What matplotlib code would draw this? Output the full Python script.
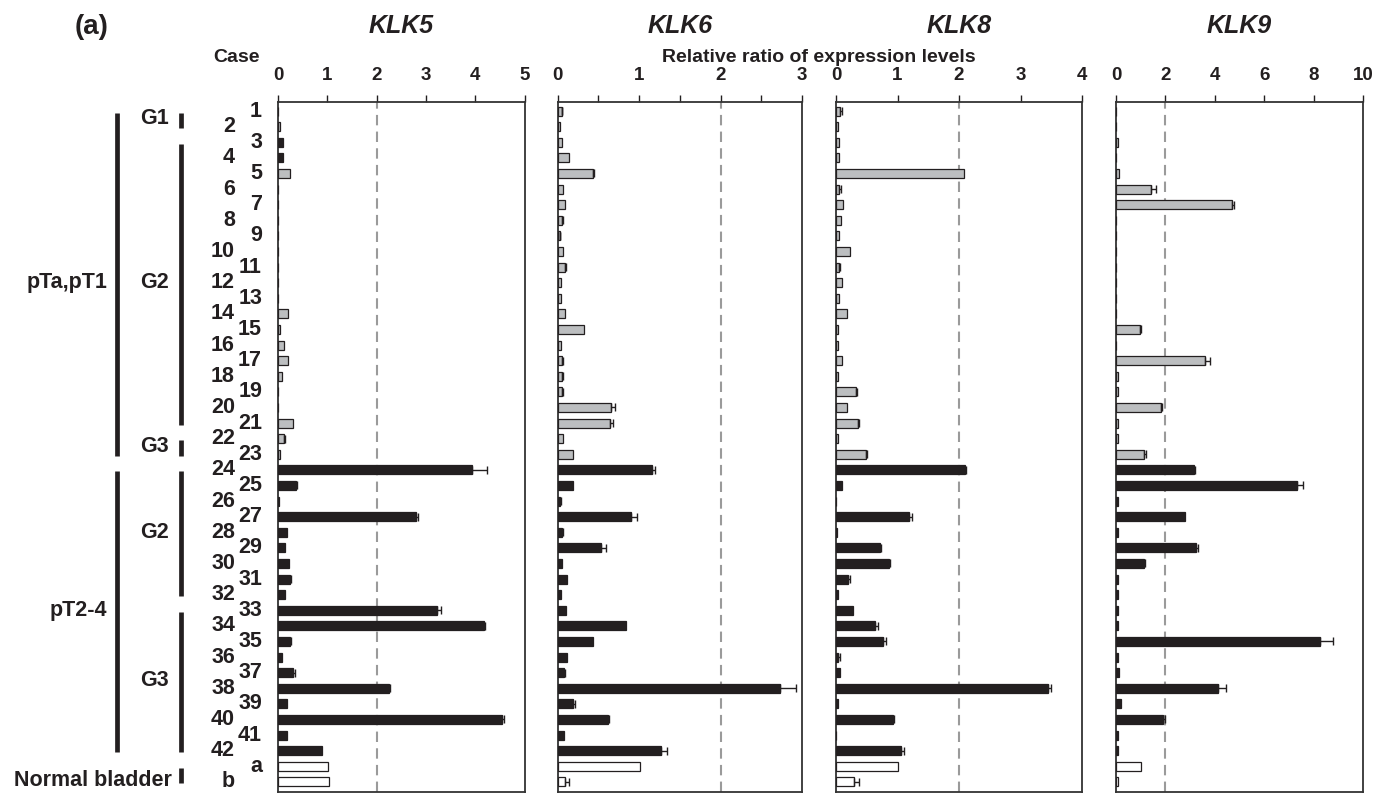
import matplotlib
matplotlib.use("Agg")
import matplotlib.pyplot as plt
from matplotlib import transforms
from matplotlib.lines import Line2D
import numpy as np

plt.rcParams['font.family'] = ['Liberation Sans', 'DejaVu Sans']
plt.rcParams['font.weight'] = 'bold'

# ---------------- data ----------------
cases = [str(i) for i in range(1, 43)] + ['a', 'b']
genes = ['KLK5', 'KLK6', 'KLK8', 'KLK9']

klk5 = [0.0, 0.05, 0.10, 0.10, 0.24, 0.0, 0.0, 0.0, 0.0, 0.0,
        0.0, 0.0, 0.0, 0.20, 0.04, 0.12, 0.20, 0.08, 0.0, 0.0,
        0.31, 0.12, 0.05, 3.93, 0.36, 0.02, 2.79, 0.19, 0.15, 0.22,
        0.24, 0.15, 3.23, 4.17, 0.24, 0.09, 0.30, 2.25, 0.18, 4.55,
        0.19, 0.89, 1.01, 1.03]
klk5_err = [0, 0, 0, 0, 0, 0, 0, 0, 0, 0,
            0, 0, 0, 0, 0, 0, 0, 0, 0, 0,
            0, 0.03, 0, 0.31, 0.02, 0, 0.05, 0, 0, 0,
            0.02, 0, 0.08, 0.03, 0.02, 0, 0.04, 0.02, 0, 0.03,
            0, 0, 0, 0]

klk6 = [0.05, 0.03, 0.05, 0.14, 0.43, 0.07, 0.09, 0.05, 0.025, 0.07,
        0.09, 0.045, 0.045, 0.09, 0.32, 0.045, 0.05, 0.05, 0.05, 0.66,
        0.64, 0.07, 0.19, 1.16, 0.19, 0.03, 0.90, 0.05, 0.53, 0.05,
        0.12, 0.04, 0.11, 0.84, 0.44, 0.12, 0.08, 2.73, 0.19, 0.62,
        0.08, 1.27, 1.01, 0.09]
klk6_err = [0.01, 0, 0, 0, 0.02, 0, 0, 0.02, 0.01, 0,
            0.02, 0, 0, 0, 0, 0, 0.02, 0.02, 0.02, 0.04,
            0.04, 0, 0, 0.04, 0, 0.01, 0.08, 0.02, 0.07, 0,
            0, 0, 0, 0, 0, 0, 0.01, 0.20, 0.02, 0.01,
            0, 0.07, 0, 0.05]

klk8 = [0.065, 0.03, 0.05, 0.05, 2.08, 0.05, 0.11, 0.08, 0.05, 0.22,
        0.05, 0.09, 0.05, 0.18, 0.03, 0.03, 0.09, 0.03, 0.32, 0.18,
        0.35, 0.03, 0.48, 2.09, 0.09, 0.0, 1.19, 0.02, 0.71, 0.86,
        0.19, 0.03, 0.28, 0.63, 0.76, 0.03, 0.06, 3.45, 0.04, 0.92,
        0.0, 1.06, 1.01, 0.29]
klk8_err = [0.03, 0, 0, 0, 0, 0.03, 0, 0, 0, 0,
            0.02, 0, 0, 0, 0, 0, 0, 0, 0.02, 0,
            0.03, 0, 0.03, 0.03, 0, 0, 0.04, 0, 0.02, 0.02,
            0.04, 0, 0, 0.05, 0.05, 0.03, 0, 0.04, 0, 0.02,
            0, 0.05, 0, 0.09]

klk9 = [0.0, 0.0, 0.07, 0.0, 0.12, 1.41, 4.71, 0.0, 0.0, 0.0,
        0.0, 0.0, 0.0, 0.0, 0.97, 0.0, 3.61, 0.07, 0.07, 1.81,
        0.07, 0.07, 1.12, 3.14, 7.33, 0.07, 2.79, 0.07, 3.25, 1.14,
        0.07, 0.07, 0.07, 0.07, 8.24, 0.07, 0.14, 4.14, 0.19, 1.92,
        0.07, 0.07, 1.03, 0.10]
klk9_err = [0, 0, 0, 0, 0, 0.19, 0.05, 0, 0, 0,
            0, 0, 0, 0, 0.05, 0, 0.19, 0, 0, 0.07,
            0, 0, 0.10, 0.05, 0.24, 0, 0, 0, 0.05, 0.05,
            0, 0, 0, 0, 0.55, 0, 0, 0.30, 0, 0.05,
            0, 0, 0, 0]

values = {'KLK5': klk5, 'KLK6': klk6, 'KLK8': klk8, 'KLK9': klk9}
errors = {'KLK5': klk5_err, 'KLK6': klk6_err, 'KLK8': klk8_err, 'KLK9': klk9_err}
xmax = {'KLK5': 5, 'KLK6': 3, 'KLK8': 4, 'KLK9': 10}
xstep = {'KLK5': 1, 'KLK6': 0.5, 'KLK8': 1, 'KLK9': 2}
dark_overrides = {'KLK5': ['3', '4']}

stage_groups = [('pTa,pT1', '1', '23'), ('pT2-4', '24', '42')]
grade_groups = [('G1', '1', '2'), ('G2', '3', '21'), ('G3', '22', '23'),
                ('G2', '24', '32'), ('G3', '33', '42'),
                ('Normal bladder', 'a', 'b')]

# ---------------- style ----------------
GRAY = '#bcbec0'
DARK = '#231f20'
W, H = 1391, 795
fig = plt.figure(figsize=(W / 100, H / 100), dpi=100)

lefts = [278, 557.5, 836, 1116]
rights = [524.5, 802, 1082, 1363]
top_px, bot_px = 102, 792

idx = np.arange(len(cases))
pos = {c: i for i, c in enumerate(cases)}

def case_color(gene, c):
    i = pos[c]
    if c in dark_overrides.get(gene, []):
        return DARK
    if i <= pos['23']:
        return GRAY
    if i <= pos['42']:
        return DARK
    return 'white'

axes = []
for g, l, r in zip(genes, lefts, rights):
    ax = fig.add_axes([l / W, 1 - bot_px / H, (r - l) / W, (bot_px - top_px) / H])
    axes.append(ax)
    vals = np.array(values[g])
    err = np.array(errors[g])
    cols = [case_color(g, c) for c in cases]
    ax.barh(idx, vals, height=0.58, color=cols, edgecolor=DARK, linewidth=0.9, zorder=3)
    m = err > 0
    ax.errorbar(vals[m], idx[m], xerr=[np.zeros(m.sum()), err[m]], fmt='none',
                ecolor=DARK, elinewidth=1.0, capsize=2.6, capthick=1.0, zorder=4)
    ax.axvline(2, color='#9a9a9a', lw=1.5, linestyle=(0, (5, 3)), zorder=2)
    ax.set_xlim(0, xmax[g])
    ax.set_ylim(43.65, -0.58)
    ticks = np.arange(0, xmax[g] + 1e-9, xstep[g])
    ax.set_xticks(ticks)
    ax.set_xticklabels([('%g' % t) if abs(t - round(t)) < 1e-9 else '' for t in ticks])
    ax.xaxis.tick_top()
    ax.tick_params(axis='x', direction='out', length=5, width=1.0, pad=8,
                   labelsize=13.5, colors=DARK)
    ax.set_yticks([])
    for sp in ax.spines.values():
        sp.set_color('#333333')
        sp.set_linewidth(1.3)
    fig.text((l + r) / 2 / W, 1 - 26 / H, g, ha='center', va='center',
             fontsize=18, fontstyle='italic', fontweight='bold', color=DARK)

ax1 = axes[0]
tr = transforms.blended_transform_factory(fig.transFigure, ax1.transData)

# case labels (staggered)
for i, c in enumerate(cases):
    xr = 262 if i % 2 == 0 else 235
    fig.text(xr / W, i, c, transform=tr, ha='right', va='center',
             fontsize=15.5, fontweight='bold', color=DARK)

# group lines and labels
def vline(xp, a, b, lw):
    fig.add_artist(Line2D([xp / W, xp / W], [pos[a] + 0.1, pos[b] + 0.1],
                          transform=tr, color=DARK, lw=lw, solid_capstyle='butt'))

for name, a, b in stage_groups:
    vline(117, a, b, 3.4)
    fig.text(107 / W, (pos[a] + pos[b]) / 2, name, transform=tr, ha='right',
             va='center', fontsize=15.5, fontweight='bold', color=DARK)
for name, a, b in grade_groups:
    vline(181, a, b, 3.4)
    yy = (pos[a] + pos[b]) / 2 if name != 'Normal bladder' else pos[b] - 0.1
    fig.text(169 / W if name != 'Normal bladder' else 172 / W, yy, name,
             transform=tr, ha='right', va='center', fontsize=15.5,
             fontweight='bold', color=DARK)

fig.text(92 / W, 1 - 27 / H, '(a)', ha='center', va='center', fontsize=20,
         fontweight='bold', color=DARK)
fig.text(237 / W, 1 - 57 / H, 'Case', ha='center', va='center', fontsize=14,
         fontweight='bold', color=DARK)
fig.text(819 / W, 1 - 57 / H, 'Relative ratio of expression levels', ha='center',
         va='center', fontsize=14, fontweight='bold', color=DARK)

fig.savefig('out.png', dpi=100)
